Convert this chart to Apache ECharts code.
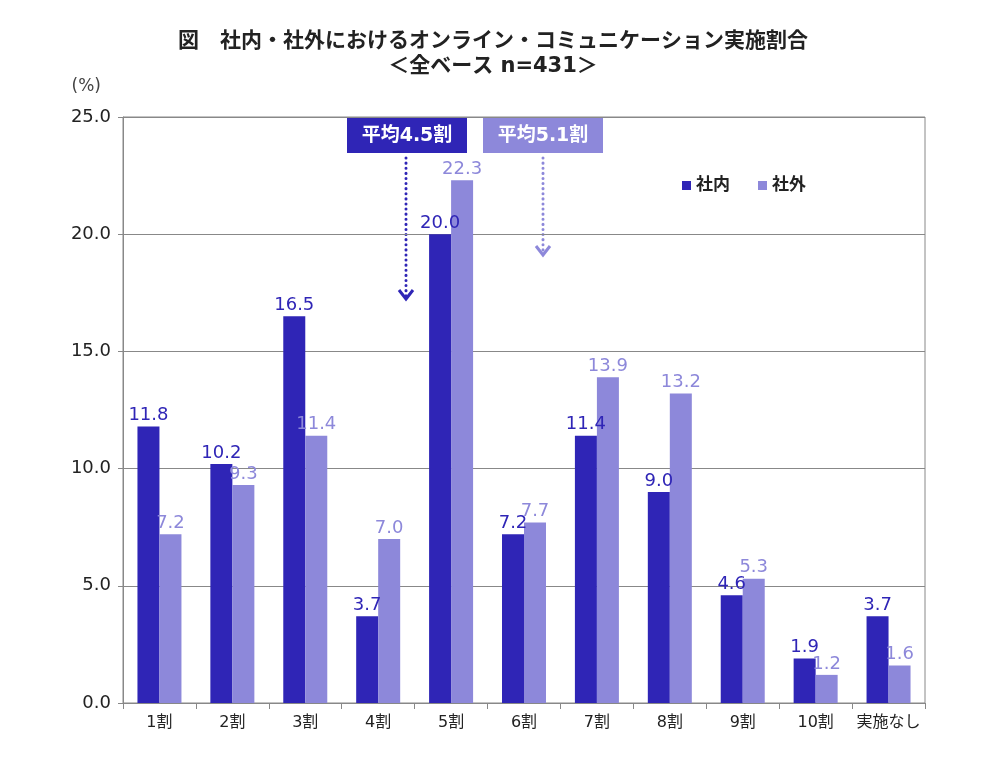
<!DOCTYPE html>
<html lang="ja">
<head>
<meta charset="UTF-8" />
<title>社内・社外オンライン・コミュニケーション実施割合</title>
<script src="https://cdn.jsdelivr.net/npm/echarts@6/dist/echarts.min.js"></script>
<style>
  html, body { margin: 0; padding: 0; background: #fff; }
  #chart { width: 1000px; height: 760px; }
</style>
</head>
<body>
<div id="chart"></div>
<script>
// データ
const categories = ['1割', '2割', '3割', '4割', '5割', '6割', '7割', '8割', '9割', '10割', '実施なし'];
const naibu = [11.8, 10.2, 16.5, 3.7, 20.0, 7.2, 11.4, 9.0, 4.6, 1.9, 3.7];   // 社内
const gaibu = [7.2, 9.3, 11.4, 7.0, 22.3, 7.7, 13.9, 13.2, 5.3, 1.2, 1.6];    // 社外
const seriesNames = ['社内', '社外'];

const DARK = '#2f25b6';
const LIGHT = '#8d88da';
// 数字は幅の広い DejaVu、日本語は Noto CJK にフォールバック
const FONT = '"DejaVu Sans", "Noto Sans CJK JP", sans-serif';

const chart = echarts.init(document.getElementById('chart'));

function barSeries(name, data, color) {
  return {
    name: name,
    type: 'bar',
    data: data,
    barWidth: 22,
    barGap: '0%',
    itemStyle: { color: color },
    label: {
      show: true,
      position: 'top',
      distance: 2,
      color: color,
      fontSize: 18,
      fontFamily: FONT,
      formatter: (p) => p.value.toFixed(1)
    }
  };
}

// 平均の注記（箱と点線矢印）
function note(x, y, w, text, fill) {
  return [
    { type: 'rect', shape: { x: x, y: y, width: w, height: 35 }, style: { fill: fill } },
    {
      type: 'text', x: x + w / 2, y: y + 18,
      style: { text: text, fill: '#fff', fontSize: 19, fontWeight: 'bold', fontFamily: FONT, align: 'center', verticalAlign: 'middle' }
    }
  ];
}
function arrow(x, y1, y2, color) {
  return [
    { type: 'line', shape: { x1: x, y1: y1, x2: x, y2: y2 }, style: { stroke: color, lineWidth: 3, lineDash: [0.1, 5], lineCap: 'round' } },
    { type: 'polyline', shape: { points: [[x - 7, y2 - 8], [x, y2 + 1], [x + 7, y2 - 8]] }, style: { stroke: color, lineWidth: 3, fill: null } }
  ];
}

const option = {
  animation: false,
  backgroundColor: '#fff',
  textStyle: { fontFamily: FONT },
  title: {
    text: '図　社内・社外におけるオンライン・コミュニケーション実施割合\n＜全ベース n=431＞',
    left: 488,
    textAlign: 'center',
    top: 24,
    textStyle: { fontSize: 21, fontWeight: 'bold', color: '#222', lineHeight: 25, fontFamily: FONT }
  },
  legend: {
    data: seriesNames,
    left: 677,
    top: 172,
    icon: 'rect',
    itemWidth: 9,
    itemHeight: 9,
    itemGap: 28,
    textStyle: { fontSize: 17, fontWeight: 'bold', color: '#222', fontFamily: FONT }
  },
  grid: {
    left: 123, right: 75, top: 117, bottom: 57,
    show: true, borderColor: '#888', borderWidth: 1
  },
  xAxis: {
    type: 'category',
    data: categories,
    axisLine: { lineStyle: { color: '#888' } },
    axisTick: { show: true, length: 6, lineStyle: { color: '#888' } },
    axisLabel: { interval: 0, color: '#222', fontSize: 16, margin: 12, fontFamily: FONT }
  },
  yAxis: {
    type: 'value',
    name: '(%)',
    nameLocation: 'end',
    nameGap: 22,
    nameTextStyle: { color: '#444', fontSize: 17, align: 'right', padding: [0, 22, 0, 0] },
    min: 0, max: 25, interval: 5,
    axisLine: { show: true, lineStyle: { color: '#888' } },
    axisTick: { show: true, length: 5, lineStyle: { color: '#888' } },
    axisLabel: { color: '#222', fontSize: 18, margin: 12, formatter: (v) => v.toFixed(1) },
    splitLine: { lineStyle: { color: '#888', width: 1 } }
  },
  series: [
    barSeries(seriesNames[0], naibu, DARK),
    barSeries(seriesNames[1], gaibu, LIGHT)
  ],
  graphic: [].concat(
    note(347, 118, 120, '平均4.5割', DARK),
    note(483, 118, 120, '平均5.1割', LIGHT),
    arrow(406, 158, 298, DARK),
    arrow(543, 158, 254, LIGHT)
  )
};

chart.setOption(option);
</script>
</body>
</html>
